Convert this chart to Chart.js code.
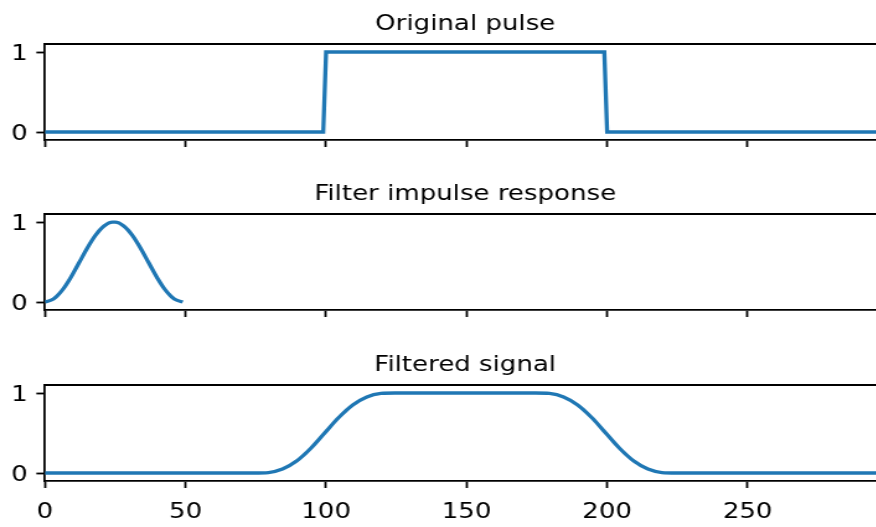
<!DOCTYPE html>
<html>
<head>
<meta charset="utf-8">
<script src="https://cdn.jsdelivr.net/npm/chart.js@4.4.1/dist/chart.umd.min.js"></script>
<style>
  html, body { margin: 0; padding: 0; background: #fff; }
  #wrap { position: relative; width: 876px; height: 527px; overflow: hidden; }
  /* the reference figure is stretched sideways, so draw narrow and widen */
  canvas { position: absolute; left: 0; transform: scaleX(1.24); transform-origin: 0 0; }
</style>
</head>
<body>
<div id="wrap">
  <canvas id="pulseChart" width="714" height="160" style="top:0px"></canvas>
  <canvas id="filterChart" width="714" height="160" style="top:170px"></canvas>
  <canvas id="filteredChart" width="714" height="186" style="top:341px"></canvas>
</div>
<script>
// original pulse
const pulseX = [0, 99, 100, 199, 200, 299];
const pulseY = [0, 0, 1, 1, 0, 0];

// filter impulse response (window, 50 taps)
const filterX = [0, 3, 6, 9, 12, 15, 18, 21, 24, 25, 28, 31, 34, 37, 40, 43, 46, 49];
const filterY = [0, 0.037, 0.141, 0.297, 0.484, 0.673, 0.836, 0.95, 0.999, 0.999, 0.95, 0.836, 0.673, 0.484, 0.297, 0.141, 0.037, 0];

// filtered signal
const filteredX = [0, 74.5, 79.5, 84.5, 89.5, 94.5, 99.5, 104.5, 109.5, 114.5, 119.5, 124.5,
                   174.5, 179.5, 184.5, 189.5, 194.5, 199.5, 204.5, 209.5, 214.5, 219.5, 224.5, 299];
const filteredY = [0, 0, 0.006, 0.049, 0.149, 0.306, 0.5, 0.694, 0.851, 0.951, 0.994, 1,
                   1, 0.994, 0.951, 0.851, 0.694, 0.5, 0.306, 0.149, 0.049, 0.006, 0, 0];

const xTicks = [0, 50, 100, 150, 200, 250];
const yTicks = [0, 1];

const FONT = 'DejaVu Sans';
const LINE = '#1f77b4';
const SPINE = 1.8;

// top + right spines and the subplot title
const frameBox = {
    id: 'frameBox',
    afterDraw(chart, args, opts) {
        const { ctx, chartArea: a } = chart;
        ctx.save();
        ctx.strokeStyle = '#000';
        ctx.lineWidth = SPINE;
        ctx.beginPath();
        ctx.moveTo(a.left - SPINE / 2, a.top);
        ctx.lineTo(a.right, a.top);
        ctx.lineTo(a.right, a.bottom);
        ctx.stroke();
        ctx.fillStyle = '#000';
        ctx.font = '21px ' + FONT;
        ctx.textAlign = 'center';
        ctx.textBaseline = 'alphabetic';
        ctx.fillText(opts.text, (a.left + a.right) / 2, a.top - 14.5);
        ctx.restore();
    }
};

const toPoints = (xs, ys) => xs.map((x, i) => ({ x: x, y: ys[i] }));

const makeChart = (id, title, xs, ys, showXLabels, smooth) => {
    const ctx = document.getElementById(id).getContext('2d');
    return new Chart(ctx, {
        type: 'line',
        data: {
            datasets: [{
                data: toPoints(xs, ys),
                borderColor: LINE,
                borderWidth: 3.3,
                pointRadius: 0,
                fill: false,
                cubicInterpolationMode: smooth ? 'monotone' : 'default',
                tension: 0
            }]
        },
        options: {
            responsive: false,
            animation: false,
            devicePixelRatio: 1,
            layout: { padding: { top: 44, left: 0, right: 0, bottom: 0 } },
            plugins: {
                legend: { display: false },
                tooltip: { enabled: false },
                title: { display: false },
                frameBox: { text: title }
            },
            scales: {
                x: {
                    type: 'linear',
                    min: 0,
                    max: 299,
                    afterBuildTicks: (scale) => {
                        scale.ticks = xTicks.map(v => ({ value: v }));
                    },
                    afterFit: (scale) => {
                        scale.height = showXLabels ? 46 : 20;
                    },
                    grid: {
                        drawOnChartArea: false,
                        drawTicks: true,
                        tickLength: 7,
                        tickWidth: SPINE,
                        tickColor: '#000'
                    },
                    border: { display: true, color: '#000', width: SPINE },
                    ticks: {
                        display: showXLabels,
                        color: '#000',
                        padding: 12,
                        maxRotation: 0,
                        font: { family: FONT, size: 21 }
                    }
                },
                y: {
                    min: -0.1,
                    max: 1.1,
                    afterBuildTicks: (scale) => {
                        scale.ticks = yTicks.map(v => ({ value: v }));
                    },
                    afterFit: (scale) => {
                        scale.width = 36.3;
                    },
                    grid: {
                        drawOnChartArea: false,
                        drawTicks: true,
                        tickLength: 7,
                        tickWidth: SPINE,
                        tickColor: '#000'
                    },
                    border: { display: true, color: '#000', width: SPINE },
                    ticks: {
                        color: '#000',
                        padding: 7,
                        // blank first line nudges the digit a little below the tick, as matplotlib does
                        callback: (v) => ['', String(v)],
                        font: { family: FONT, size: 21, lineHeight: '6px' }
                    }
                }
            }
        },
        plugins: [frameBox]
    });
};

makeChart('pulseChart', 'Original pulse', pulseX, pulseY, false, false);
makeChart('filterChart', 'Filter impulse response', filterX, filterY, false, true);
makeChart('filteredChart', 'Filtered signal', filteredX, filteredY, true, true);
</script>
</body>
</html>
